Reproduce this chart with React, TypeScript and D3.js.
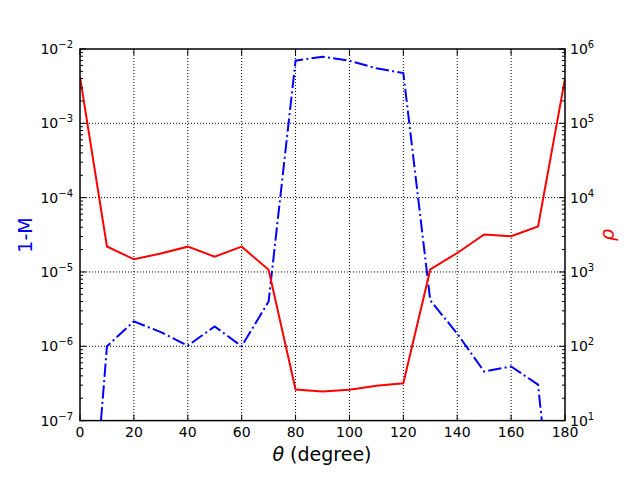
import React from "react";
import * as d3 from "d3";

const theta = [0, 10, 20, 30, 40, 50, 60, 70, 80, 90, 100, 110, 120, 130, 140, 150, 160, 170, 180];
const oneMinusM = [3e-11, 1.0e-6, 2.16e-6, 1.55e-6, 1.02e-6, 1.85e-6, 1.0e-6, 4.0e-6, 6.95e-3, 7.88e-3, 6.95e-3, 5.5e-3, 4.75e-3, 4.14e-6, 1.48e-6, 4.57e-7, 5.35e-7, 3.05e-7, 1e-10];
const rho = [4.2e5, 2.2e3, 1.48e3, 1.77e3, 2.19e3, 1.61e3, 2.19e3, 1.07e3, 26.2, 24.6, 26.0, 29.5, 31.8, 1.08e3, 1.8e3, 3.2e3, 3.02e3, 4.1e3, 4.0e5];
const xTicks = [0, 20, 40, 60, 80, 100, 120, 140, 160, 180];
const leftExp = [-7, -6, -5, -4, -3, -2];
const rightExp = [1, 2, 3, 4, 5, 6];

const L = 80, R = 565, T = 49, B = 420.6;
const FONT = "DejaVu Sans, sans-serif";

export default function App() {
  const x = d3.scaleLinear().domain([0, 180]).range([L, R]);
  const yL = d3.scaleLog().domain([1e-7, 1e-2]).range([B, T]);
  const yR = d3.scaleLog().domain([10, 1e6]).range([B, T]);

  const blueLine = d3.line<number>().x((_, i) => x(theta[i])).y((d) => yL(d))(oneMinusM) || "";
  const redLine = d3.line<number>().x((_, i) => x(theta[i])).y((d) => yR(d))(rho) || "";

  const minorL: number[] = [];
  for (let e = -7; e < -2; e++) for (let m = 2; m <= 9; m++) minorL.push(m * Math.pow(10, e));
  const minorR: number[] = [];
  for (let e = 1; e < 6; e++) for (let m = 2; m <= 9; m++) minorR.push(m * Math.pow(10, e));

  return (
    <svg width={640} height={480} style={{ position: "absolute", left: 0, top: 0 }}>
      <rect width={640} height={480} fill="white" />
      <defs>
        <clipPath id="plot">
          <rect x={L} y={T} width={R - L} height={B - T} />
        </clipPath>
      </defs>
      {/* grid */}
      <g stroke="black" strokeWidth={1} strokeDasharray="1,2" fill="none">
        {xTicks.slice(1, -1).map((t) => (
          <line key={"gx" + t} x1={x(t)} x2={x(t)} y1={T} y2={B} />
        ))}
        {leftExp.slice(1, -1).map((e) => (
          <line key={"gy" + e} x1={L} x2={R} y1={yL(Math.pow(10, e))} y2={yL(Math.pow(10, e))} />
        ))}
      </g>
      {/* lines */}
      <g clipPath="url(#plot)" fill="none" strokeWidth={2}>
        <path d={blueLine} stroke="#0000ff" strokeDasharray="13.3,3.3,2,3.3" />
        <path d={redLine} stroke="#ff0000" />
      </g>
      {/* ticks */}
      <g stroke="black" strokeWidth={1}>
        {xTicks.map((t) => (
          <g key={"xt" + t}>
            <line x1={x(t)} x2={x(t)} y1={B} y2={B - 6} />
            <line x1={x(t)} x2={x(t)} y1={T} y2={T + 6} />
          </g>
        ))}
        {leftExp.map((e) => (
          <line key={"lt" + e} x1={L} x2={L + 6} y1={yL(Math.pow(10, e))} y2={yL(Math.pow(10, e))} />
        ))}
        {minorL.map((v, i) => (
          <line key={"lm" + i} x1={L} x2={L + 3} y1={yL(v)} y2={yL(v)} />
        ))}
        {rightExp.map((e) => (
          <line key={"rt" + e} x1={R} x2={R - 6} y1={yR(Math.pow(10, e))} y2={yR(Math.pow(10, e))} />
        ))}
        {minorR.map((v, i) => (
          <line key={"rm" + i} x1={R} x2={R - 3} y1={yR(v)} y2={yR(v)} />
        ))}
      </g>
      {/* frame */}
      <rect x={L} y={T} width={R - L} height={B - T} fill="none" stroke="black" strokeWidth={1.5} />
      {/* tick labels */}
      <g fontFamily={FONT} fontSize={14} fill="black">
        {xTicks.map((t) => (
          <text key={"xl" + t} x={x(t)} y={437} textAnchor="middle">{t}</text>
        ))}
        {leftExp.map((e) => (
          <text key={"ll" + e} x={73} y={yL(Math.pow(10, e)) + 5} textAnchor="end">
            10<tspan fontSize={10} dy={-6}>{"\u2212" + Math.abs(e)}</tspan>
          </text>
        ))}
        {rightExp.map((e) => (
          <text key={"rl" + e} x={570} y={yR(Math.pow(10, e)) + 5} textAnchor="start">
            10<tspan fontSize={10} dy={-6}>{e}</tspan>
          </text>
        ))}
      </g>
      {/* axis labels */}
      <text x={322} y={461} textAnchor="middle" fontFamily={FONT} fontSize={19} fill="black">
        <tspan fontStyle="italic">θ</tspan> (degree)
      </text>
      <text transform="translate(32,235) rotate(-90)" textAnchor="middle" fontFamily={FONT} fontSize={19} fill="#0000ff">
        1-M
      </text>
      <text transform="translate(614,235) rotate(-90)" textAnchor="middle" fontFamily={FONT} fontSize={19} fontStyle="italic" fill="#ff0000">
        ρ
      </text>
    </svg>
  );
}
